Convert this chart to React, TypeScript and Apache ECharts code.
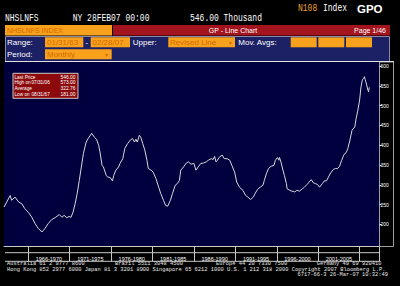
import React, { useEffect, useRef } from "react";
import * as echarts from "echarts";

// ---- data ----
const dates = [
  "1963-01","1963-10","1963-12","1964-05","1964-10","1965-03","1965-07","1965-12","1966-05","1966-10",
  "1967-03","1967-08","1967-12","1968-05","1968-10","1969-03","1969-09","1970-01","1970-04","1970-08",
  "1970-11","1971-02","1971-05","1971-08","1971-11","1972-02","1972-05","1972-08","1972-12","1973-03",
  "1973-08","1973-12","1974-03","1974-06","1974-08","1974-11","1975-01","1975-05","1975-07","1975-11",
  "1976-02","1976-04","1976-07","1976-11","1977-01","1977-05","1977-08","1977-12","1978-04","1978-07",
  "1978-10","1978-12","1979-02","1979-05","1979-07","1979-10","1980-01","1980-04","1980-06","1980-10",
  "1981-01","1981-05","1981-09","1981-12","1982-04","1982-07","1982-10","1983-02","1983-05","1983-09",
  "1983-12","1984-03","1984-05","1984-09","1985-01","1985-04","1985-08","1985-12","1986-03","1986-07",
  "1986-10","1987-02","1987-06","1987-09","1988-01","1988-04","1988-06","1988-08","1988-10","1989-01",
  "1989-05","1989-08","1989-12","1990-04","1990-07","1990-11","1991-02","1991-06","1991-11","1992-03",
  "1992-06","1992-10","1993-02","1993-05","1993-08","1993-12","1994-04","1994-06","1994-09","1994-12",
  "1995-04","1995-08","1995-10","1996-01","1996-03","1996-04","1996-06","1996-09","1996-11","1997-02",
  "1997-03","1997-07","1997-10","1998-02","1998-05","1998-09","1999-01","1999-04","1999-08","1999-11",
  "2000-02","2000-05","2000-08","2000-11","2001-02","2001-06","2001-09","2001-12","2002-03","2002-06",
  "2002-10","2003-01","2003-04","2003-07","2003-10","2004-01","2004-05","2004-07","2004-10","2005-01",
  "2005-05","2005-07","2005-09","2005-12","2006-02","2006-04","2006-06","2006-07","2006-08","2006-09",
  "2006-10","2006-12","2007-01","2007-02"
];
const values = [
  244,273,261,269,257,252,240,231,219,202,
  189,181,189,202,212,217,225,218,223,217,
  220,218,231,252,278,311,345,379,408,417,
  430,420,415,400,383,349,345,324,320,318,
  310,324,337,345,354,366,392,404,413,417,
  408,415,408,425,420,404,387,362,341,337,
  332,316,294,278,261,248,246,261,278,299,
  303,311,337,345,355,358,352,354,337,347,
  354,355,358,362,366,364,372,358,362,370,
  375,366,366,362,349,332,307,294,286,273,
  269,263,269,279,288,294,299,311,328,341,
  347,349,362,369,362,369,358,337,324,303,
  290,286,284,282,286,284,290,294,301,307,
  313,305,303,301,294,303,310,310,320,330,
  339,341,341,347,362,375,383,392,413,438,
  446,468,484,514,547,565,569,573,566,560,
  554,539,535,546
];

const yTicks = [200, 250, 300, 350, 400, 450, 500, 550, 600];
const separatorYears = [1966, 1971, 1976, 1981, 1986, 1991, 1996, 2001, 2006];
const periodLabels = ["1966-1970", "1971-1975", "1976-1980", "1981-1985", "1986-1990", "1991-1995", "1996-2000", "2001-2005"];

const statNames = ["Last Price", "High on", "Average", "Low on"];
const statDates = ["", "07/31/06", "", "08/31/67"];
const statValues = ["546.00", "573.00", "322.76", "181.00"];

const footerLine1 = [
  "Australia 61 2 9777 8600",
  "Brazil 5511 3048 4500",
  "Europe 44 20 7330 7500",
  "Germany 49 69 920410",
];
const footerLine2 = "Hong Kong 852 2977 6000 Japan 81 3 3201 8900 Singapore 65 6212 1000 U.S. 1 212 318 2000 Copyright 2007 Bloomberg L.P.";
const footerLine3 = "6717-66-3 26-Mar-07 10:32:49";

// ---- styling ----
const ORANGE = "#f7a11c";
const ORANGE_TEXT = "#d66a00";
const RED = "#a3141e";
const PANEL = "#1c2064";
const PLOT = "#00003f";
const LINE_GRAY = "#c8c8c8";
const SANS = "Liberation Sans";
const MONO = "Liberation Mono";

function toYear(d: string) {
  const [y, m] = d.split("-").map(Number);
  return y + m / 12;
}

const periodCenters = separatorYears.slice(0, -1).map((s, i) => (s + separatorYears[i + 1]) / 2);

function txt(text: string, x: number, y: number, opts: any = {}) {
  return {
    type: "text",
    x,
    y,
    z: opts.z ?? 20,
    scaleY: opts.scaleY ?? 1,
    style: {
      text,
      fill: opts.fill ?? "#ffffff",
      font: opts.font ?? `8px ${SANS}`,
      textAlign: opts.align ?? "left",
      textVerticalAlign: "middle",
    },
  };
}

function rect(x: number, y: number, w: number, h: number, fill: string, stroke?: string, z = 5) {
  return {
    type: "rect",
    z,
    shape: { x, y, width: w, height: h },
    style: { fill, stroke: stroke ?? null, lineWidth: stroke ? 1 : 0 },
  };
}

function hline(x1: number, x2: number, y: number, color = LINE_GRAY, z = 30) {
  return { type: "line", z, shape: { x1, y1: y, x2, y2: y }, style: { stroke: color, lineWidth: 1 } };
}
function vline(x: number, y1: number, y2: number, color = LINE_GRAY, z = 30) {
  return { type: "line", z, shape: { x1: x, y1, x2: x, y2 }, style: { stroke: color, lineWidth: 1 } };
}

function buildGraphic() {
  const g: any[] = [];
  // top line
  g.push(txt("NHSLNFS", 5, 18, { font: `8px ${MONO}`, scaleY: 1.25 }));
  g.push(txt("NY 28FEB07 00:00", 72.7, 18, { font: `8px ${MONO}`, scaleY: 1.25 }));
  g.push(txt("546.00 Thousand", 190, 18, { font: `8px ${MONO}`, scaleY: 1.25 }));
  g.push(txt("N108", 298, 8.5, { font: `8px ${MONO}`, fill: "#f0a030", scaleY: 1.25 }));
  g.push(txt("Index", 323, 8.5, { font: `8px ${MONO}`, scaleY: 1.25 }));
  g.push(txt("GPO", 357, 8.5, { font: `bold 11.5px ${SANS}` }));

  // header bar
  g.push(rect(5, 25, 107, 10.5, ORANGE));
  g.push(txt("NHSLNFS INDEX", 7, 30.3, { font: `7px ${SANS}`, fill: ORANGE_TEXT }));
  g.push(rect(113, 25, 277, 10.5, RED));
  g.push(txt("GP - Line Chart", 233, 30.3, { font: `7px ${SANS}`, align: "center" }));
  g.push(txt("Page 1/46", 386, 30.3, { font: `7px ${SANS}`, align: "right" }));

  // control panel
  g.push(rect(5.5, 36.5, 384, 25, PANEL, "#8a8aa8"));
  g.push(txt("Range:", 7, 42.3));
  g.push(rect(45, 37.3, 38.3, 10, ORANGE, null as any, 6));
  g.push(txt("01/31/63", 47, 42.3, { fill: ORANGE_TEXT }));
  g.push(txt("-", 85.5, 42.3));
  g.push(rect(90.7, 37.3, 39.3, 10, ORANGE, null as any, 6));
  g.push(txt("02/28/07", 92.5, 42.3, { fill: ORANGE_TEXT }));
  g.push(txt("Upper:", 132.7, 42.3));
  g.push(rect(168.3, 37.3, 66.7, 10, ORANGE, null as any, 6));
  g.push(txt("Revised Line", 170, 42.3, { fill: ORANGE_TEXT }));
  g.push(txt("▾", 230, 42.8, { fill: ORANGE_TEXT, font: `6px ${SANS}`, align: "center" }));
  g.push(txt("Mov. Avgs:", 238.3, 42.3));
  g.push(rect(290.7, 37.3, 26, 10, ORANGE, null as any, 6));
  g.push(rect(318.3, 37.3, 26, 10, ORANGE, null as any, 6));
  g.push(rect(346, 37.3, 26, 10, ORANGE, null as any, 6));
  g.push(txt("Period:", 7, 54.3));
  g.push(rect(45, 49.3, 66.7, 10, ORANGE, null as any, 6));
  g.push(txt("Monthly", 47, 54.3, { fill: ORANGE_TEXT }));
  g.push(txt("▾", 106.7, 54.8, { fill: ORANGE_TEXT, font: `6px ${SANS}`, align: "center" }));

  // chart top line
  g.push(hline(5, 394, 61.5, "#e0e0e0"));

  // right axis box
  g.push({
    type: "rect",
    z: 1,
    shape: { x: 379.5, y: 62, width: 14, height: 184.5 },
    style: { fill: "#000000", stroke: "#a0a0a0", lineWidth: 1 },
  });

  // x band lines
  g.push(hline(5, 379.5, 252.7));
  g.push(hline(5, 379.5, 261.3));
  g.push(vline(379.5, 246.5, 261.3));

  // stats box
  g.push({
    type: "rect",
    z: 40,
    shape: { x: 13, y: 73.3, width: 65, height: 25 },
    style: { fill: "#8c0a0c", stroke: "#c8c8c8", lineWidth: 1 },
  });
  statNames.forEach((n, i) => {
    const y = 77.2 + i * 5.6;
    g.push(txt(n, 14.5, y, { font: `4.7px ${SANS}`, z: 41 }));
    if (statDates[i]) g.push(txt(statDates[i], 31.5, y, { font: `4.7px ${SANS}`, z: 41 }));
    g.push(txt(statValues[i], 75.5, y, { font: `4.9px ${SANS}`, align: "right", z: 41 }));
  });

  // footer
  const fx = [7, 115, 216, 316.7];
  footerLine1.forEach((t, i) => g.push(txt(t, fx[i], 264.3, { font: `5.4px ${MONO}`, fill: "#e8e8e8" })));
  g.push(txt(footerLine2, 7, 269.7, { font: `5.4px ${MONO}`, fill: "#e8e8e8" }));
  g.push(txt(footerLine3, 388, 275.2, { font: `5.4px ${MONO}`, fill: "#e8e8e8", align: "right" }));
  return g;
}

export default function App() {
  const ref = useRef<HTMLDivElement>(null);
  useEffect(() => {
    if (!ref.current) return;
    const chart = echarts.init(ref.current, null, { renderer: "svg", width: 400, height: 286 });
    const seriesData = dates.map((d, i) => [toYear(d), values[i]]);
    chart.setOption({
      animation: false,
      backgroundColor: "#000000",
      grid: {
        left: 4,
        top: 62,
        width: 375.5,
        height: 184.5,
        show: true,
        backgroundColor: PLOT,
        borderWidth: 0,
      },
      xAxis: {
        type: "value",
        min: 1963.083,
        max: 2008.4,
        axisLine: { show: true, lineStyle: { color: LINE_GRAY, width: 1 } },
        axisTick: { show: true, customValues: separatorYears, length: 14.8, inside: false, lineStyle: { color: LINE_GRAY } },
        axisLabel: {
          customValues: periodCenters,
          formatter: (v: number) => {
            const idx = periodCenters.findIndex((c) => Math.abs(c - v) < 0.01);
            return idx >= 0 ? periodLabels[idx] : "";
          },
          color: "#ffffff",
          fontSize: 5.5,
          fontFamily: SANS,
          margin: 9.5,
        },
        splitLine: { show: false },
      },
      yAxis: {
        type: "value",
        position: "right",
        min: 144.3,
        max: 610,
        axisLine: { show: false },
        axisTick: { show: true, customValues: yTicks, length: 2, inside: false, lineStyle: { color: "#ffffff" } },
        axisLabel: {
          customValues: yTicks,
          color: "#ffffff",
          fontSize: 5,
          fontFamily: SANS,
          margin: 1,
        },
        splitLine: { show: false },
        z: 10,
      },
      series: [
        {
          type: "line",
          data: seriesData,
          showSymbol: false,
          lineStyle: { color: "#d8d8d8", width: 1 },
          z: 5,
        },
      ],
      graphic: buildGraphic(),
    });
    return () => chart.dispose();
  }, []);
  return <div ref={ref} style={{ position: "fixed", left: 0, top: 0, width: 400, height: 286 }} />;
}
